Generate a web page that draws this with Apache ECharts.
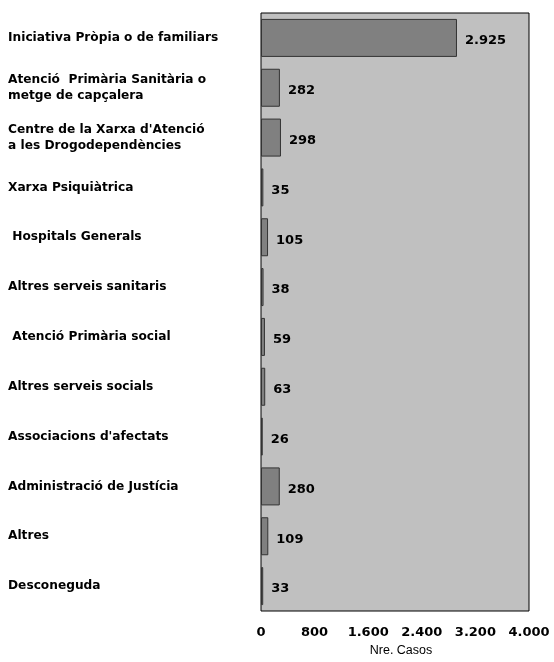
<!DOCTYPE html>
<html>
<head>
<meta charset="utf-8">
<script src="https://cdn.jsdelivr.net/npm/echarts@6/dist/echarts.min.js"></script>
<style>html,body{margin:0;padding:0;background:#fff;}#c{width:554px;height:662px;}</style>
</head>
<body>
<div id="c"></div>
<script>
var categories = [
  "Iniciativa Pròpia o de familiars",
  "Atenció  Primària Sanitària o\nmetge de capçalera",
  "Centre de la Xarxa d'Atenció\na les Drogodependències",
  "Xarxa Psiquiàtrica",
  " Hospitals Generals",
  "Altres serveis sanitaris",
  " Atenció Primària social",
  "Altres serveis socials",
  "Associacions d'afectats",
  "Administració de Justícia",
  "Altres",
  "Desconeguda"
];
var values = [2925, 282, 298, 35, 105, 38, 59, 63, 26, 280, 109, 33];
var xTicks = [0, 800, 1600, 2400, 3200, 4000];

function fmt(v) {
  return String(v).replace(/\B(?=(\d{3})+(?!\d))/g, '.');
}

var chart = echarts.init(document.getElementById('c'));
chart.setOption({
  animation: false,
  grid: {
    left: 261, top: 13, right: 25, bottom: 51,
    show: true, backgroundColor: '#c0c0c0', borderColor: '#000', borderWidth: 1
  },
  xAxis: {
    type: 'value',
    min: xTicks[0], max: xTicks[xTicks.length - 1], interval: 800,
    axisLine: { show: false },
    axisTick: { show: false },
    splitLine: { show: false },
    axisLabel: {
      margin: 15,
      color: '#000',
      fontFamily: 'DejaVu Sans', fontWeight: 'bold', fontSize: 13,
      formatter: function (v) { return fmt(v); }
    },
    name: 'Nre. Casos',
    nameLocation: 'middle',
    nameGap: 30,
    nameTextStyle: { fontFamily: 'Liberation Sans', fontSize: 12.5, color: '#000', padding: [0, 0, 0, 12] }
  },
  yAxis: {
    type: 'category',
    inverse: true,
    data: categories,
    axisLine: { show: false },
    axisTick: { show: false },
    axisLabel: {
      align: 'left',
      margin: 253,
      color: '#000',
      fontFamily: 'DejaVu Sans', fontWeight: 'bold', fontSize: 12.2,
      lineHeight: 16,
      padding: [8, 0, 0, 0]
    }
  },
  series: [{
    type: 'bar',
    data: values,
    barWidth: 38,
    itemStyle: { color: '#808080', borderColor: '#333', borderWidth: 1 },
    label: {
      show: true,
      position: 'right',
      distance: 8,
      offset: [0, 3],
      color: '#000',
      fontFamily: 'DejaVu Sans', fontWeight: 'bold', fontSize: 13,
      formatter: function (p) { return fmt(p.value); }
    }
  }]
});
</script>
</body>
</html>
